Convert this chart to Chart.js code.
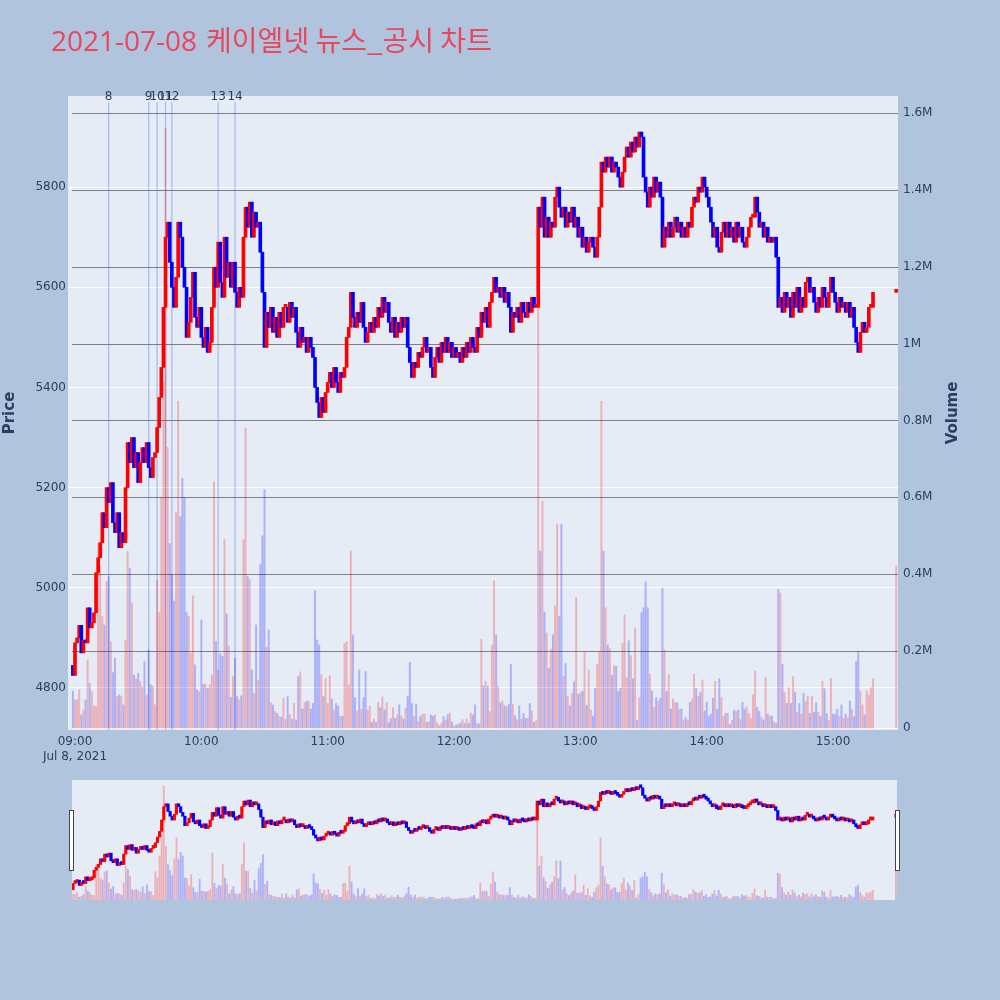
<!DOCTYPE html>
<html>
<head>
<meta charset="utf-8">
<script src="https://cdn.jsdelivr.net/npm/chart.js@4.4.0/dist/chart.umd.min.js"></script>
<style>
  html, body { margin: 0; padding: 0; background: #b0c4de; }
  #wrap { position: relative; width: 1000px; height: 1000px; overflow: hidden; }
  #main { position: absolute; left: 0; top: 0; }
  #slider { position: absolute; left: 72px; top: 780px; background: #e5ecf6; }
  .handle { position: absolute; top: 810px; width: 3px; height: 59px; background: #fff; border: 1px solid #444; }
</style>
</head>
<body>
<div id="wrap">
  <canvas id="main" width="1000" height="780"></canvas>
  <canvas id="slider" width="825" height="120"></canvas>
  <div class="handle" style="left:69px"></div>
  <div class="handle" style="left:895px"></div>
</div>
<script>
Chart.defaults.font.family = '"DejaVu Sans", Verdana, sans-serif'
Chart.defaults.font.size = 12
Chart.defaults.color = '#2a3f5f'

const titleDate = '2021-07-08'
const titleText = '케이엘넷 뉴스_공시 차트'

// 1분봉, 첫 봉은 08:59 (분 단위, 09:00 = 0)
const firstMinute = -1
const firstOpen = 4845
const closes = [
  4825, 4890, 4900, 4925, 4870, 4895, 4890, 4960, 4920, 4930,
  4950, 5030, 5060, 5090, 5150, 5120, 5200, 5170, 5210, 5130,
  5110, 5150, 5080, 5110, 5090, 5200, 5290, 5250, 5300, 5240,
  5270, 5210, 5250, 5280, 5250, 5290, 5240, 5220, 5260, 5270,
  5320, 5380, 5440, 5560, 5700, 5730, 5650, 5600, 5560, 5620,
  5730, 5700, 5640, 5600, 5500, 5530, 5580, 5630, 5540, 5520,
  5560, 5500, 5480, 5520, 5470, 5490, 5560, 5640, 5600, 5690,
  5610, 5580, 5700, 5620, 5650, 5600, 5650, 5590, 5560, 5600,
  5580, 5700, 5760, 5720, 5770, 5700, 5750, 5720, 5730, 5670,
  5590, 5480, 5550, 5520, 5560, 5510, 5540, 5500, 5550, 5520,
  5560, 5560, 5530, 5570, 5540, 5560, 5510, 5480, 5520, 5490,
  5500, 5470, 5500, 5480, 5460, 5400, 5370, 5340, 5380, 5350,
  5390, 5410, 5430, 5400, 5440, 5410, 5390, 5430, 5420, 5440,
  5500, 5520, 5590, 5540, 5520, 5550, 5530, 5570, 5520, 5490,
  5510, 5530, 5510, 5540, 5520, 5560, 5540, 5580, 5550, 5570,
  5530, 5510, 5540, 5500, 5530, 5510, 5540, 5520, 5540, 5480,
  5450, 5420, 5450, 5440, 5470, 5460, 5480, 5500, 5470, 5480,
  5440, 5420, 5460, 5480, 5450, 5490, 5470, 5500, 5470, 5490,
  5460, 5480, 5460, 5470, 5450, 5480, 5460, 5490, 5470, 5500,
  5480, 5470, 5520, 5500, 5550, 5530, 5560, 5520, 5570, 5590,
  5620, 5590, 5600, 5580, 5600, 5570, 5590, 5560, 5510, 5550,
  5540, 5560, 5530, 5570, 5550, 5540, 5570, 5550, 5580, 5560,
  5560, 5760, 5720, 5780, 5700, 5740, 5700, 5730, 5720, 5780,
  5800, 5760, 5740, 5760, 5720, 5750, 5730, 5760, 5720, 5740,
  5700, 5720, 5680, 5700, 5670, 5690, 5700, 5680, 5660, 5700,
  5760, 5850, 5830, 5860, 5840, 5860, 5830, 5850, 5840, 5820,
  5800, 5830, 5860, 5880, 5860, 5890, 5870, 5900, 5880, 5910,
  5900, 5820, 5790, 5760, 5800, 5780, 5820, 5790, 5810, 5780,
  5680, 5720, 5700, 5730, 5700, 5720, 5740, 5710, 5730, 5700,
  5720, 5700, 5730, 5720, 5760, 5780, 5770, 5800, 5790, 5820,
  5800, 5780, 5760, 5730, 5700, 5720, 5680, 5670, 5710, 5730,
  5700, 5730, 5700, 5720, 5690, 5730, 5700, 5720, 5690, 5680,
  5700, 5720, 5740, 5740, 5780, 5750, 5720, 5730, 5700, 5720,
  5690, 5700, 5690, 5700, 5660, 5560, 5580, 5550, 5590, 5560,
  5580, 5540, 5590, 5560, 5600, 5550, 5580, 5560, 5610, 5620,
  5590, 5600, 5570, 5550, 5580, 5560, 5600, 5580, 5560, 5590,
  5620, 5590, 5570, 5550, 5580, 5560, 5570, 5550, 5570, 5540,
  5560, 5520, 5490, 5470, 5510, 5530, 5510, 5520, 5560, 5560,
  5590
]
// 거래량 (천주)
const volumes = [
  96, 73, 73, 99, 34, 47, 73, 177, 116, 95,
  58, 56, 480, 420, 290, 268, 381, 394, 225, 144,
  181, 82, 86, 83, 60, 229, 460, 416, 325, 138,
  127, 142, 121, 108, 173, 86, 203, 112, 109, 60,
  385, 300, 600, 900, 1560, 730, 480, 400, 330, 560,
  850, 550, 650, 600, 300, 290, 194, 344, 164, 99,
  95, 281, 114, 114, 103, 112, 138, 640, 225, 150,
  193, 186, 490, 297, 214, 80, 134, 181, 82, 73,
  84, 490, 780, 394, 387, 151, 90, 268, 125, 425,
  500, 620, 210, 255, 66, 60, 43, 38, 30, 28,
  77, 23, 82, 36, 23, 64, 21, 134, 146, 49,
  66, 70, 69, 49, 64, 357, 229, 216, 138, 82,
  129, 64, 136, 75, 47, 64, 57, 31, 30, 220,
  225, 112, 460, 242, 79, 43, 151, 49, 79, 147,
  47, 56, 15, 23, 15, 67, 53, 81, 47, 67,
  14, 24, 53, 25, 34, 60, 32, 23, 51, 82,
  171, 64, 30, 62, 17, 30, 36, 36, 15, 16,
  34, 31, 34, 14, 6, 12, 30, 21, 34, 39,
  16, 5, 8, 10, 13, 22, 12, 23, 12, 39,
  34, 60, 12, 10, 231, 109, 122, 109, 43, 216,
  383, 242, 108, 66, 70, 58, 56, 62, 166, 62,
  32, 21, 58, 23, 38, 25, 25, 64, 44, 14,
  19, 1100, 460, 590, 301, 247, 155, 205, 242, 318,
  530, 290, 530, 134, 168, 82, 58, 90, 120, 339,
  88, 92, 96, 199, 59, 151, 47, 31, 103, 166,
  199, 850, 460, 313, 216, 206, 137, 161, 161, 95,
  103, 220, 294, 131, 227, 188, 128, 260, 20, 79,
  300, 313, 380, 313, 140, 96, 54, 79, 69, 77,
  364, 203, 95, 138, 49, 76, 66, 66, 49, 49,
  21, 28, 21, 67, 75, 140, 103, 82, 93, 125,
  44, 67, 30, 36, 77, 121, 49, 128, 79, 30,
  38, 38, 10, 20, 47, 43, 47, 23, 67, 49,
  55, 38, 25, 86, 148, 54, 43, 28, 21, 131,
  36, 31, 31, 16, 12, 361, 351, 166, 92, 64,
  105, 64, 134, 93, 41, 64, 36, 90, 69, 83,
  38, 82, 41, 66, 41, 30, 122, 102, 38, 19,
  129, 36, 36, 49, 30, 60, 25, 36, 27, 70,
  49, 30, 173, 199, 96, 60, 34, 96, 86, 105,
  128
]
// 15:30 동시호가
const auctionMinute = 390
const auctionPrice = 5590
const auctionVolume = 422

// 뉴스/공시 시각 (분)
const newsMinutes = [16, 35, 39, 43, 46, 68, 76]
const newsLabels = ['8', '9', '10', '11', '12', '13', '14']

const timeTicks = [0, 60, 120, 180, 240, 300, 360]
const timeLabels = ['09:00', '10:00', '11:00', '12:00', '13:00', '14:00', '15:00']
const dateLabel = 'Jul 8, 2021'
const priceTicks = [4800, 5000, 5200, 5400, 5600, 5800]
const volumeTicks = [0, 0.2, 0.4, 0.6, 0.8, 1, 1.2, 1.4, 1.6] // M

const candles = []
const candleColors = []
const vols = []
const volColors = []
let prev = firstOpen
closes.forEach((c, i) => {
    const up = c >= prev
    const m = firstMinute + i
    candles.push({ x: m, y: [prev, c] })
    candleColors.push(up ? '#ff0000' : '#0000ff')
    vols.push({ x: m, y: volumes[i] * 1000 })
    volColors.push(up ? 'rgba(255,0,0,0.25)' : 'rgba(0,0,255,0.25)')
    prev = c
})
candles.push({ x: auctionMinute, y: [auctionPrice, auctionPrice] })
candleColors.push('#ff0000')
vols.push({ x: auctionMinute, y: auctionVolume * 1000 })
volColors.push('rgba(255,0,0,0.25)')

const priceMin = 4716, priceMax = 5982
const volMin = -5200, volMax = 1644000

const decor = {
    id: 'decor',
    beforeDraw(chart) {
        const { ctx, chartArea: a } = chart
        ctx.save()
        ctx.fillStyle = '#e5ecf6'
        ctx.fillRect(a.left, a.top, a.right - a.left, a.bottom - a.top)
        ctx.restore()
    },
    beforeDatasetsDraw(chart) {
        const { ctx, chartArea: a } = chart
        const xs = chart.scales.x
        const vs = chart.scales.vol
        ctx.save()
        // 거래량 격자 (왼쪽 끝이 조금 안쪽에서 시작)
        ctx.lineWidth = 1
        volumeTicks.forEach(v => {
            const y = Math.round(vs.getPixelForValue(v * 1e6)) + 0.5
            ctx.strokeStyle = v === 0 ? '#ffffff' : '#808080'
            ctx.beginPath()
            ctx.moveTo(72, y)
            ctx.lineTo(a.right, y)
            ctx.stroke()
        })
        // 뉴스 세로선
        ctx.strokeStyle = 'rgba(70,110,235,0.4)'
        ctx.lineWidth = 1.2
        newsMinutes.forEach(m => {
            const x = xs.getPixelForValue(m)
            ctx.beginPath()
            ctx.moveTo(x, 102)
            ctx.lineTo(x, a.bottom)
            ctx.stroke()
        })
        ctx.restore()
    },
    afterDraw(chart) {
        const ctx = chart.ctx
        const xs = chart.scales.x
        ctx.save()
        // 뉴스 번호
        ctx.fillStyle = '#2a3f5f'
        ctx.font = '12px "DejaVu Sans"'
        ctx.textAlign = 'center'
        ctx.textBaseline = 'middle'
        newsMinutes.forEach((m, i) => {
            ctx.fillText(newsLabels[i], xs.getPixelForValue(m), 97)
        })
        // 제목
        ctx.fillStyle = 'rgb(232,71,94)'
        ctx.textAlign = 'left'
        ctx.textBaseline = 'alphabetic'
        ctx.font = '28px "Open Sans"'
        ctx.fillText(titleDate, 51, 51)
        const w = ctx.measureText(titleDate).width
        ctx.font = '28px "Noto Sans CJK KR"'
        ctx.fillText(titleText, 51 + w + 9, 51)
        // 축 제목
        ctx.fillStyle = '#2a3f5f'
        ctx.font = 'bold 15px "DejaVu Sans"'
        ctx.textAlign = 'center'
        ctx.textBaseline = 'middle'
        ctx.translate(10, 413)
        ctx.rotate(-Math.PI / 2)
        ctx.fillText('Price', 0, 0)
        ctx.restore()
        ctx.save()
        ctx.fillStyle = '#2a3f5f'
        ctx.font = 'bold 15px "DejaVu Sans"'
        ctx.textAlign = 'center'
        ctx.textBaseline = 'middle'
        ctx.translate(953, 413)
        ctx.rotate(-Math.PI / 2)
        ctx.fillText('Volume', 0, 0)
        ctx.restore()
    }
}

const mainChart = new Chart(document.getElementById('main'), {
    type: 'bar',
    data: {
        datasets: [{
            label: 'Volume',
            data: vols,
            yAxisID: 'vol',
            backgroundColor: volColors,
            barThickness: 1.3,
            grouped: false,
            order: 2
        }, {
            label: 'Price',
            data: candles,
            yAxisID: 'price',
            backgroundColor: candleColors,
            barThickness: 3,
            minBarLength: 3,
            grouped: false,
            order: 1
        }]
    },
    options: {
        responsive: false,
        animation: false,
        layout: { padding: { top: 96, left: 0, right: 0, bottom: 0 } },
        plugins: { legend: { display: false }, tooltip: { enabled: false } },
        scales: {
            x: {
                type: 'linear',
                min: -3.32,
                max: 390.86,
                offset: false,
                grid: { display: false, offset: false },
                border: { display: false },
                afterBuildTicks: s => { s.ticks = timeTicks.map(v => ({ value: v })) },
                afterFit: s => { s.height = 50 },
                ticks: {
                    autoSkip: false,
                    maxRotation: 0,
                    padding: -3,
                    callback: v => {
                        const i = timeTicks.indexOf(v)
                        return i === 0 ? [timeLabels[0], dateLabel] : timeLabels[i]
                    }
                }
            },
            price: {
                type: 'linear',
                position: 'left',
                min: priceMin,
                max: priceMax,
                afterBuildTicks: s => { s.ticks = priceTicks.map(v => ({ value: v })) },
                afterFit: s => { s.width = 68 },
                grid: { color: '#ffffff', lineWidth: 1, drawTicks: false },
                border: { display: false },
                ticks: { padding: 2, callback: v => String(v) }
            },
            vol: {
                type: 'linear',
                position: 'right',
                min: volMin,
                max: volMax,
                afterBuildTicks: s => { s.ticks = volumeTicks.map(v => ({ value: v * 1e6 })) },
                afterFit: s => { s.width = 102 },
                grid: { display: false, drawTicks: false },
                border: { display: false },
                ticks: {
                    padding: 5,
                    callback: v => v === 0 ? '0' : parseFloat((v / 1e6).toFixed(1)) + 'M'
                }
            }
        }
    },
    plugins: [decor]
})

// 하단 레인지 슬라이더 미니 차트
const sliderChart = new Chart(document.getElementById('slider'), {
    type: 'bar',
    data: {
        datasets: [{
            data: vols.slice(),
            yAxisID: 'vol',
            backgroundColor: volColors,
            barThickness: 1.2,
            grouped: false,
            order: 2
        }, {
            data: candles.slice(),
            yAxisID: 'price',
            backgroundColor: candleColors,
            barThickness: 2.5,
            minBarLength: 3,
            grouped: false,
            order: 1
        }]
    },
    options: {
        responsive: false,
        animation: false,
        layout: { padding: 0 },
        plugins: { legend: { display: false }, tooltip: { enabled: false } },
        scales: {
            x: { type: 'linear', min: -0.5, max: 390.5, offset: false, display: false },
            price: { type: 'linear', min: priceMin, max: priceMax, display: false },
            vol: { type: 'linear', min: volMin, max: volMax, display: false }
        }
    }
})
</script>
</body>
</html>
